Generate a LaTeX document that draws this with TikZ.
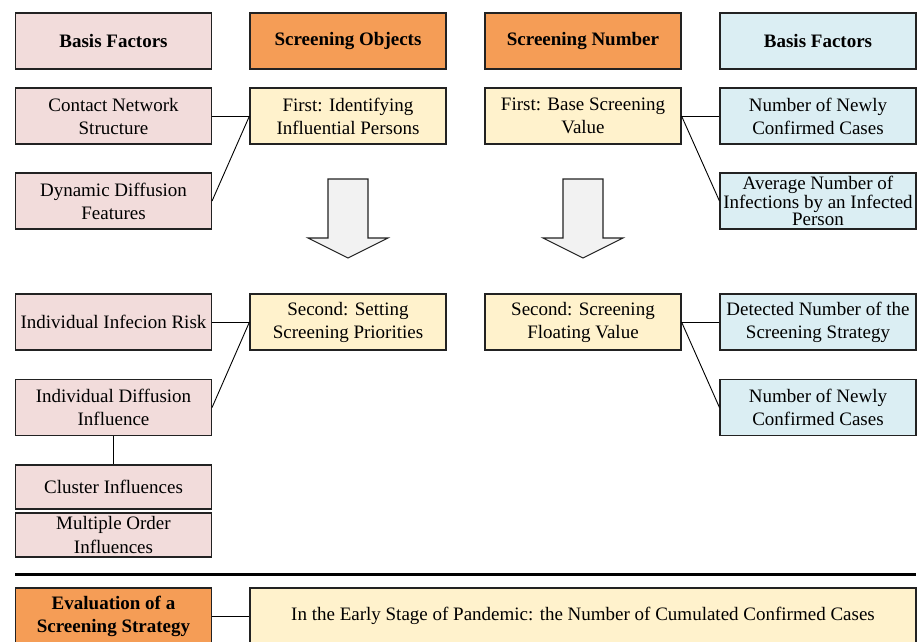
\documentclass[tikz,border=0pt]{standalone}
\usepackage{fontspec}
\setmainfont{Liberation Serif}
\definecolor{pinkbox}{HTML}{F2DCDB}
\definecolor{orangebox}{HTML}{F59D56}
\definecolor{yellowbox}{HTML}{FFF2CC}
\definecolor{bluebox}{HTML}{DBEEF3}
\definecolor{arrowfill}{HTML}{F2F2F2}
\definecolor{edge}{HTML}{222222}
\tikzset{
  box/.style={draw=edge, line width=1.1pt, rectangle, inner sep=0pt,
    minimum width=196pt, minimum height=56pt, align=center,
    font=\fontsize{19}{23}\selectfont},
  factor/.style={box, fill=pinkbox},
  header/.style={box, fill=orangebox, font=\fontsize{19}{23}\selectfont\bfseries},
  stage/.style={box, fill=yellowbox},
  rfactor/.style={box, fill=bluebox},
  link/.style={draw=black, line width=0.9pt},
  blockarrow/.style={draw=edge, line width=1.1pt, fill=arrowfill, line join=miter}
}
\begin{document}
\begin{tikzpicture}[x=1pt, y=-1pt]
\useasboundingbox (0,0) rectangle (919,641);
\clip (0,0) rectangle (919,641);

% header row
\node[factor, font=\fontsize{19}{23}\selectfont\bfseries] (bfl) at (113.5,41) {Basis Factors};
\node[header] (obj) at (348,41) {Screening Objects};
\node[header] (num) at (583,41) {Screening Number};
\node[rfactor, font=\fontsize{19}{23}\selectfont\bfseries] (bfr) at (818,41) {Basis Factors};

% first stage
\node[factor] (contact) at (113.5,116) {Contact Network\\Structure};
\node[factor] (dynamic) at (113.5,201) {Dynamic Diffusion\\Features};
\node[stage] (identify) at (348,116) {First: Identifying\\Influential Persons};
\node[stage] (base) at (583,116) {First: Base Screening\\Value};
\node[rfactor] (newly1) at (818,116) {Number of Newly\\Confirmed Cases};
\node[rfactor, font=\fontsize{19}{16.5}\selectfont] (average) at (818,201)
  {Average Number of\\Infections by an Infected\\Person};

% block arrows between the stages
\draw[blockarrow] (328,179) -- (368,179) -- (368,238) -- (388,238) -- (348,258)
  -- (308,238) -- (328,238) -- cycle;
\draw[blockarrow] (563,179) -- (603,179) -- (603,238) -- (623,238) -- (583,258)
  -- (543,238) -- (563,238) -- cycle;

% second stage
\node[factor] (risk) at (113.5,322) {Individual Infecion Risk};
\node[factor] (diffusion) at (113.5,407.5) {Individual Diffusion\\Influence};
\node[factor, minimum height=44pt] (cluster) at (113.5,487) {Cluster Influences};
\node[factor, minimum height=44pt, font=\fontsize{19}{24}\selectfont] (multiple) at (113.5,535)
  {Multiple Order\\Influences};
\node[stage] (priority) at (348,322) {Second: Setting\\Screening Priorities};
\node[stage] (floating) at (583,322) {Second: Screening\\Floating Value};
\node[rfactor] (detected) at (818,322) {Detected Number of the\\Screening Strategy};
\node[rfactor] (newly2) at (818,407.5) {Number of Newly\\Confirmed Cases};

% links
\draw[link] (contact.east) -- (identify.west);
\draw[link] (dynamic.east) -- (identify.west);
\draw[link] (base.east) -- (newly1.west);
\draw[link] (base.east) -- (average.west);
\draw[link] (risk.east) -- (priority.west);
\draw[link] (diffusion.east) -- (priority.west);
\draw[link] (diffusion.south) -- (cluster.north);
\draw[link] (floating.east) -- (detected.west);
\draw[link] (floating.east) -- (newly2.west);

% separator
\coordinate (sepL) at (15,574.5);
\coordinate (sepR) at (916,574.5);
\draw[line width=3.2pt, draw=black] (sepL) -- (sepR);

% evaluation
\node[header] (evaluation) at (113.5,616) {Evaluation of a\\Screening Strategy};
\node[stage, minimum width=666pt] (early) at (583,616)
  {In the Early Stage of Pandemic: the Number of Cumulated Confirmed Cases};
\draw[link] (evaluation.east) -- (early.west);
\end{tikzpicture}
\end{document}
